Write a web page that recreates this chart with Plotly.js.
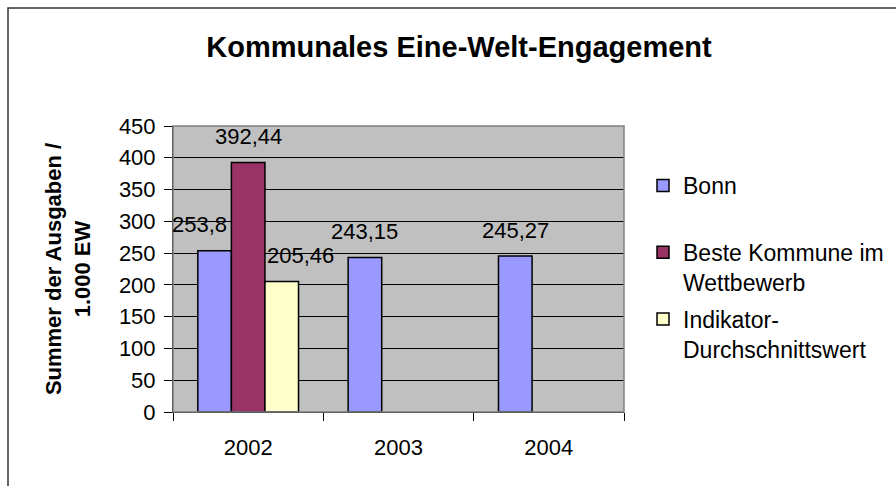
<!DOCTYPE html>
<html>
<head>
<meta charset="utf-8">
<script src="https://cdn.plot.ly/plotly-3.0.1.min.js"></script>
<style>
  html, body { margin: 0; padding: 0; background: #fff; }
  #chart { width: 896px; height: 486px; }
</style>
</head>
<body>
<div id="chart"></div>
<script>
// Kommunales Eine-Welt-Engagement: Ausgaben je 1.000 Einwohner
const years = ['2002', '2003', '2004'];
const seriesNames = ['Bonn', 'Beste Kommune im<br>Wettbewerb', 'Indikator-<br>Durchschnittswert'];
const bonn = [253.8, 243.15, 245.27];
const besteKommune = [392.44, null, null];
const indikator = [205.46, null, null];
const yTicks = [0, 50, 100, 150, 200, 250, 300, 350, 400, 450];

const seriesValues = [bonn, besteKommune, indikator];
const seriesColors = ['#9999FF', '#993366', '#FFFFCC'];

const W = 896, H = 486;
const margin = { l: 173, r: 272, t: 126, b: 74, autoexpand: false };
const bargap = 0.33;
const font = 'Liberation Sans, Arial, sans-serif';

// German number format for the data labels
function de(v) { return String(v).replace('.', ','); }

const traces = seriesValues.map((vals, i) => ({
    type: 'bar',
    name: seriesNames[i],
    x: years,
    y: vals,
    marker: { color: seriesColors[i], line: { color: '#000', width: 1.5 } },
    legendgroup: 'g' + i,
    hoverinfo: 'skip'
}));
// first legend entry gets an empty second line so the spacing looks like Excel
traces[0].name = 'Bonn<br>&nbsp;';

// data labels sit above each bar, shifted to the bar inside the group
const plotW = W - margin.l - margin.r;
const barPx = plotW / years.length * (1 - bargap) / seriesValues.length;
const labelNudge = [[-15, 0, 0], [0, 0, 0], [19, 0, 0]];
const annotations = [];
seriesValues.forEach((vals, i) => {
    vals.forEach((v, j) => {
        if (v === null) return;
        annotations.push({
            x: j, y: v, xref: 'x', yref: 'y',   // category index
            text: de(v), showarrow: false,
            xshift: (i - 1) * barPx + labelNudge[i][j],
            yshift: 26, yanchor: 'middle',
            font: { family: font, size: 22, color: '#000' }
        });
    });
});

const layout = {
    width: W, height: H,
    margin: margin,
    paper_bgcolor: '#fff',
    plot_bgcolor: '#C0C0C0',
    barmode: 'group',
    bargap: bargap,
    bargroupgap: 0,
    font: { family: font, size: 22, color: '#000' },
    title: {
        text: '<b>Kommunales Eine-Welt-Engagement</b>',
        font: { family: font, size: 29, color: '#000' },
        xref: 'container', x: 459 / W, xanchor: 'center',
        yref: 'container', y: 1 - 47 / H, yanchor: 'middle'
    },
    xaxis: {
        type: 'category',
        range: [-0.5, years.length - 0.5],
        tickson: 'boundaries',
        ticks: 'outside', ticklen: 8, tickcolor: '#000', tickwidth: 1,
        showgrid: false,
        showline: true, linecolor: '#000', linewidth: 1,
        ticklabelstandoff: 16,
        tickangle: 0,
        tickfont: { family: font, size: 22, color: '#000' }
    },
    yaxis: {
        range: [0, 450],
        tickvals: yTicks,
        ticks: 'outside', ticklen: 8, tickcolor: '#000', tickwidth: 1,
        showgrid: true, gridcolor: '#000', gridwidth: 1,
        zeroline: true, zerolinecolor: '#000', zerolinewidth: 1,
        showline: true, linecolor: '#000', linewidth: 1,
        ticklabelstandoff: 4,
        tickfont: { family: font, size: 22, color: '#000' },
        title: {
            text: '<b>Summer der Ausgaben /<br>1.000 EW</b>',
            font: { family: font, size: 22, color: '#000' },
            standoff: 22
        }
    },
    legend: {
        x: (643 - margin.l) / plotW, xanchor: 'left',
        y: (H - margin.b - 164) / (H - margin.t - margin.b), yanchor: 'top',
        valign: 'top',
        tracegroupgap: 4,
        itemwidth: 30,
        bgcolor: 'rgba(0,0,0,0)',
        font: { family: font, size: 23, color: '#000' }
    },
    annotations: annotations,
    shapes: [
        // grey frame round the plot area
        { type: 'rect', xref: 'paper', yref: 'paper', x0: 0, x1: 1, y0: 0, y1: 1,
          line: { color: '#808080', width: 1.5 }, layer: 'above' },
        // outer chart frame, open at right and bottom as in the picture
        { type: 'rect', xref: 'paper', yref: 'paper',
          x0: (8 - margin.l) / plotW, x1: 2,
          y0: -1, y1: (H - margin.b - 8) / (H - margin.t - margin.b),
          line: { color: '#333', width: 1.5 }, layer: 'above' }
    ]
};

Plotly.newPlot('chart', traces, layout, { displayModeBar: false, staticPlot: true });
</script>
</body>
</html>
